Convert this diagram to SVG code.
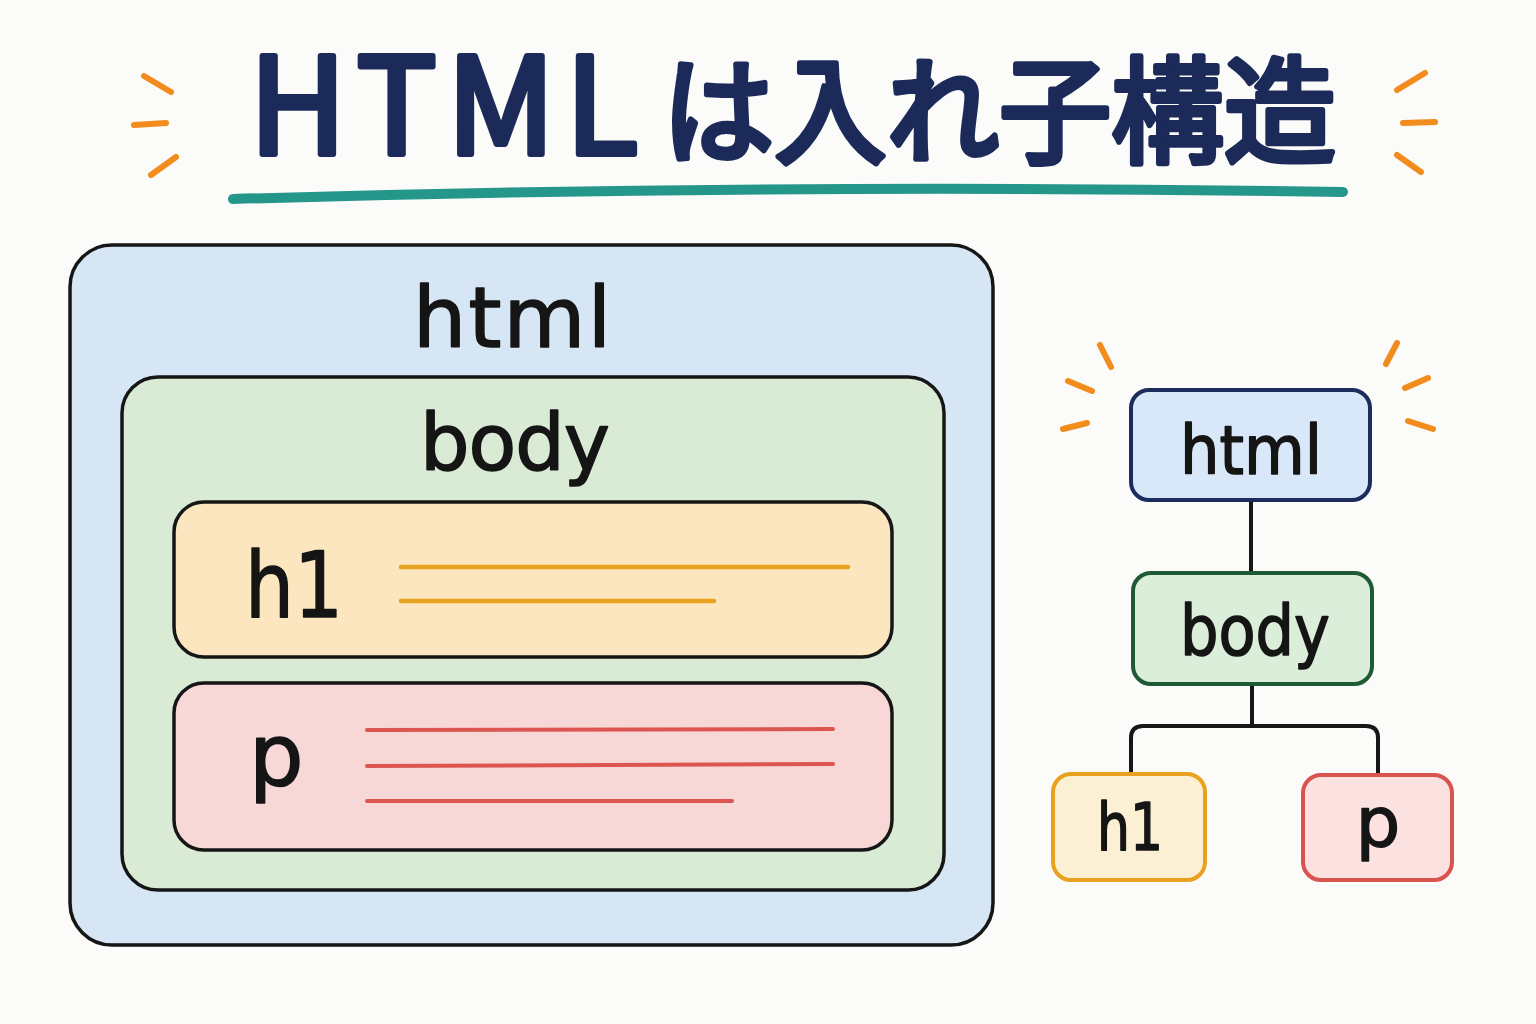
<svg xmlns="http://www.w3.org/2000/svg" width="1536" height="1024" viewBox="0 0 1536 1024">
<style>
.tick{stroke:#f28c1c;stroke-width:6;stroke-linecap:round;fill:none}
.lbl{font-family:"DejaVu Sans","Noto Sans",sans-serif;fill:#151515;stroke:#151515;stroke-width:1.6;stroke-linejoin:round}
.box{stroke:#161616;stroke-width:3.5}
.conn{stroke:#161616;stroke-width:4;fill:none;stroke-linejoin:round}
.title{font-family:"Noto Sans CJK JP","Noto Sans",sans-serif;font-weight:400;fill:#1b2a58;stroke:#1b2a58;stroke-width:6;stroke-linejoin:round;stroke-linecap:round}
</style>
<rect width="1536" height="1024" fill="#fbfbf9"/>
<g id="title">
<text class="title" y="154"><tspan x="249" font-size="134" textLength="389" lengthAdjust="spacing">HTML</tspan><tspan x="662" font-size="116" textLength="674" lengthAdjust="spacingAndGlyphs">は入れ子構造</tspan></text>
<path d="M233 199 Q780 183 1343 192" stroke="#24968a" stroke-width="10" stroke-linecap="round" fill="none"/>
<line class="tick" x1="144" y1="76" x2="171" y2="92"/>
<line class="tick" x1="134" y1="125" x2="166" y2="123"/>
<line class="tick" x1="151" y1="175" x2="176" y2="157"/>
<line class="tick" x1="1397" y1="90" x2="1425" y2="73"/>
<line class="tick" x1="1403" y1="123" x2="1435" y2="122"/>
<line class="tick" x1="1397" y1="155" x2="1421" y2="172"/>
</g>
<g id="nest-html">
<rect class="box" x="70" y="245" width="923" height="700" rx="42" fill="#d7e6f5"/>
<text class="lbl" x="512" y="347" font-size="84" text-anchor="middle" textLength="198" lengthAdjust="spacing">html</text>
</g>
<g id="nest-body">
<rect class="box" x="122" y="377" width="822" height="513" rx="36" fill="#d9ebd5"/>
<text class="lbl" x="515" y="470" font-size="78" text-anchor="middle" textLength="190" lengthAdjust="spacing">body</text>
</g>
<g id="nest-h1">
<rect class="box" x="174" y="502" width="718" height="155" rx="30" fill="#fbe6bf"/>
<text class="lbl" x="245" y="617" font-size="90" textLength="98" lengthAdjust="spacingAndGlyphs">h1</text>
<line x1="401" y1="567" x2="848" y2="567" stroke="#e9a21f" stroke-width="4.5" stroke-linecap="round"/>
<line x1="401" y1="601" x2="714" y2="601" stroke="#e9a21f" stroke-width="4.5" stroke-linecap="round"/>
</g>
<g id="nest-p">
<rect class="box" x="174" y="683" width="718" height="167" rx="30" fill="#f8d8d6"/>
<text class="lbl" x="249" y="785" font-size="86">p</text>
<line x1="367" y1="730" x2="833" y2="729" stroke="#dc5550" stroke-width="4" stroke-linecap="round"/>
<line x1="367" y1="766" x2="833" y2="764" stroke="#dc5550" stroke-width="4" stroke-linecap="round"/>
<line x1="367" y1="801" x2="732" y2="801" stroke="#dc5550" stroke-width="4" stroke-linecap="round"/>
</g>
<g id="connectors">
<line class="conn" x1="1251" y1="500" x2="1251" y2="573"/>
<line class="conn" x1="1252" y1="684" x2="1252" y2="726"/>
<path class="conn" d="M1131 774 V738 Q1131 726 1143 726 H1366 Q1378 726 1378 738 V775"/>
</g>
<g id="tree-html">
<line class="tick" x1="1100" y1="345" x2="1111" y2="367"/>
<line class="tick" x1="1068" y1="381" x2="1092" y2="391"/>
<line class="tick" x1="1063" y1="429" x2="1087" y2="423"/>
<line class="tick" x1="1397" y1="343" x2="1386" y2="364"/>
<line class="tick" x1="1428" y1="378" x2="1405" y2="388"/>
<line class="tick" x1="1408" y1="421" x2="1433" y2="429"/>
<rect x="1131" y="390" width="239" height="110" rx="18" fill="#d9e8f8" stroke="#1b2d5c" stroke-width="4"/>
<text class="lbl" x="1251" y="474" font-size="68" text-anchor="middle" textLength="142" lengthAdjust="spacingAndGlyphs">html</text>
</g>
<g id="tree-body">
<rect x="1133" y="573" width="239" height="111" rx="18" fill="#dbeeda" stroke="#1f5a36" stroke-width="4"/>
<text class="lbl" x="1255" y="655" font-size="70" text-anchor="middle" textLength="150" lengthAdjust="spacingAndGlyphs">body</text>
</g>
<g id="tree-h1">
<rect x="1053" y="774" width="152" height="106" rx="18" fill="#fcf0d4" stroke="#e9a21f" stroke-width="4"/>
<text class="lbl" x="1130" y="850" font-size="66" text-anchor="middle" textLength="66" lengthAdjust="spacingAndGlyphs">h1</text>
</g>
<g id="tree-p">
<rect x="1303" y="775" width="149" height="105" rx="18" fill="#fbe1e0" stroke="#d9534f" stroke-width="4"/>
<text class="lbl" x="1378" y="847" font-size="70" text-anchor="middle">p</text>
</g>
</svg>
